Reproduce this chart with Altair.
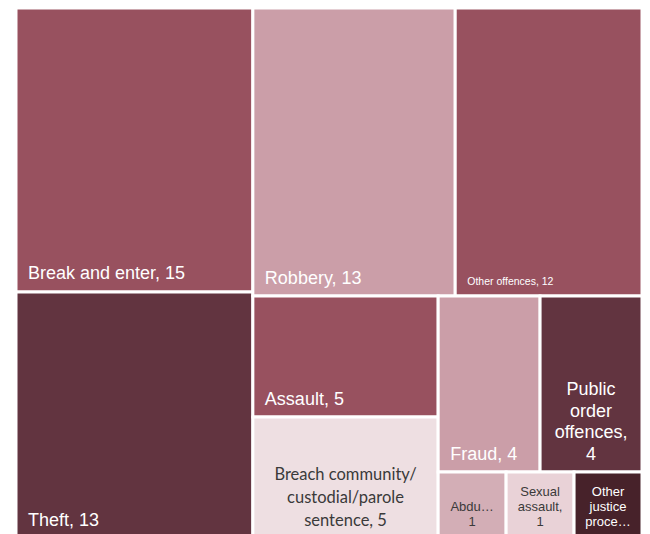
import altair as alt
import pandas as pd

# ---- data ----
categories = ["Break and enter", "Theft", "Robbery", "Other offences", "Assault",
              "Breach community/custodial/parole sentence", "Fraud",
              "Public order offences", "Abduction", "Sexual assault",
              "Other justice procedures"]
values = [15, 13, 13, 12, 5, 5, 4, 4, 1, 1, 1]
labels = ["Break and enter, 15", "Theft, 13", "Robbery, 13", "Other offences, 12",
          "Assault, 5", "Breach community/\ncustodial/parole\nsentence, 5", "Fraud, 4",
          "Public\norder\noffences,\n4", "Abdu…\n1", "Sexual\nassault,\n1",
          "Other\njustice\nproce…"]
fill_colors = ["#98515F", "#623440", "#CB9EA8", "#98515F", "#98515F", "#EEDFE2",
               "#CB9EA8", "#623440", "#D3AEB6", "#E9D2D7", "#47222A"]

# ---- label styles (kept apart from the data) ----
label_style = {
    "Break and enter": "left", "Theft": "left", "Robbery": "left", "Assault": "left",
    "Fraud": "left", "Other offences": "left_small",
    "Breach community/custodial/parole sentence": "center_breach",
    "Public order offences": "center_big",
    "Abduction": "center_small", "Sexual assault": "center_small",
    "Other justice procedures": "center_small",
}
text_color = {
    "Breach community/custodial/parole sentence": "#3A3A3A",
    "Abduction": "#3A3A3A", "Sexual assault": "#3A3A3A",
}

PLOT_W, PLOT_H = 626, 530      # drawing area in px
TM_W, TM_H = 626, 530          # treemap extent (bottom edge runs off the page like the reference)


def worst(row, length):
    s = sum(row)
    return max(max(length * length * r / (s * s), s * s / (length * length * r)) for r in row)


def squarify(vals, x, y, w, h):
    total = sum(vals)
    areas = [v * w * h / total for v in vals]
    rects = []
    i = 0
    while i < len(areas):
        length = min(w, h)
        row = [areas[i]]
        j = i + 1
        while j < len(areas) and worst(row + [areas[j]], length) <= worst(row, length):
            row.append(areas[j])
            j += 1
        s = sum(row)
        if w >= h:
            cw = s / h
            yy = y
            for a in row:
                rh = a / cw
                rects.append((x, yy, x + cw, yy + rh))
                yy += rh
            x += cw
            w -= cw
        else:
            rh = s / w
            xx = x
            for a in row:
                rw = a / rh
                rects.append((xx, y, xx + rw, y + rh))
                xx += rw
            y += rh
            h -= rh
        i = j
    return rects


rects = squarify(values, 0, 0, TM_W, TM_H)
df = pd.DataFrame({
    "category": categories,
    "value": values,
    "label": labels,
    "x0": [r[0] for r in rects],
    "y0": [r[1] for r in rects],
    "x1": [r[2] for r in rects],
    "y1": [r[3] for r in rects],
})
df["style"] = df["category"].map(label_style)
df["tcolor"] = df["category"].map(lambda c: text_color.get(c, "#FFFFFF"))
df["nlines"] = df["label"].map(lambda s: s.count("\n") + 1)

xs = alt.Scale(domain=[0, PLOT_W], nice=False, zero=False)
ys = alt.Scale(domain=[0, PLOT_H], nice=False, zero=False, reverse=True)

base = alt.Chart(df)

rect = base.mark_rect(stroke="white", strokeWidth=3).encode(
    x=alt.X("x0:Q", scale=xs, axis=None),
    x2="x1:Q",
    y=alt.Y("y0:Q", scale=ys, axis=None),
    y2="y1:Q",
    color=alt.Color("category:N", scale=alt.Scale(domain=categories, range=fill_colors), legend=None),
    tooltip=["category:N", "value:Q"],
)

FONT = "Liberation Sans, Arial, sans-serif"

left_big = base.transform_filter(alt.datum.style == "left").mark_text(
    align="left", baseline="alphabetic", dx=12, dy=-12.5, fontSize=18, font=FONT
).encode(x=alt.X("x0:Q", scale=xs), y=alt.Y("y1:Q", scale=ys), text="label:N",
         color=alt.Color("tcolor:N", scale=None))

left_small = base.transform_filter(alt.datum.style == "left_small").mark_text(
    align="left", baseline="alphabetic", dx=12, dy=-11, fontSize=10.5, font=FONT
).encode(x=alt.X("x0:Q", scale=xs), y=alt.Y("y1:Q", scale=ys), text="label:N",
         color=alt.Color("tcolor:N", scale=None))


def centered(style, size, lh, font, pad):
    # multi-line labels are anchored at their first line, so lift them by the extra lines
    return base.transform_filter(alt.datum.style == style).transform_calculate(
        xc="(datum.x0 + datum.x1) / 2",
        ya=f"datum.y1 - (datum.nlines - 1) * {lh}",
    ).mark_text(
        align="center", baseline="alphabetic", dy=-pad, fontSize=size, font=font,
        lineBreak="\n", lineHeight=lh
    ).encode(x=alt.X("xc:Q", scale=xs), y=alt.Y("ya:Q", scale=ys), text="label:N",
             color=alt.Color("tcolor:N", scale=None))


center_big = centered("center_big", 18, 21.5, FONT, 12.5)
center_breach = centered("center_breach", 16.5, 23, "Lato, Open Sans, sans-serif", 12)
center_small = centered("center_small", 13, 15.3, FONT, 11.5)

chart = alt.layer(rect, left_big, left_small, center_big, center_breach, center_small).properties(
    width=PLOT_W, height=PLOT_H,
    autosize=alt.AutoSizeParams(type="none"),
    padding={"left": 8, "top": 0, "right": 0, "bottom": 0},
).configure_view(strokeWidth=0)

chart.save("out.html", embed_options={"renderer": "svg", "actions": False})
